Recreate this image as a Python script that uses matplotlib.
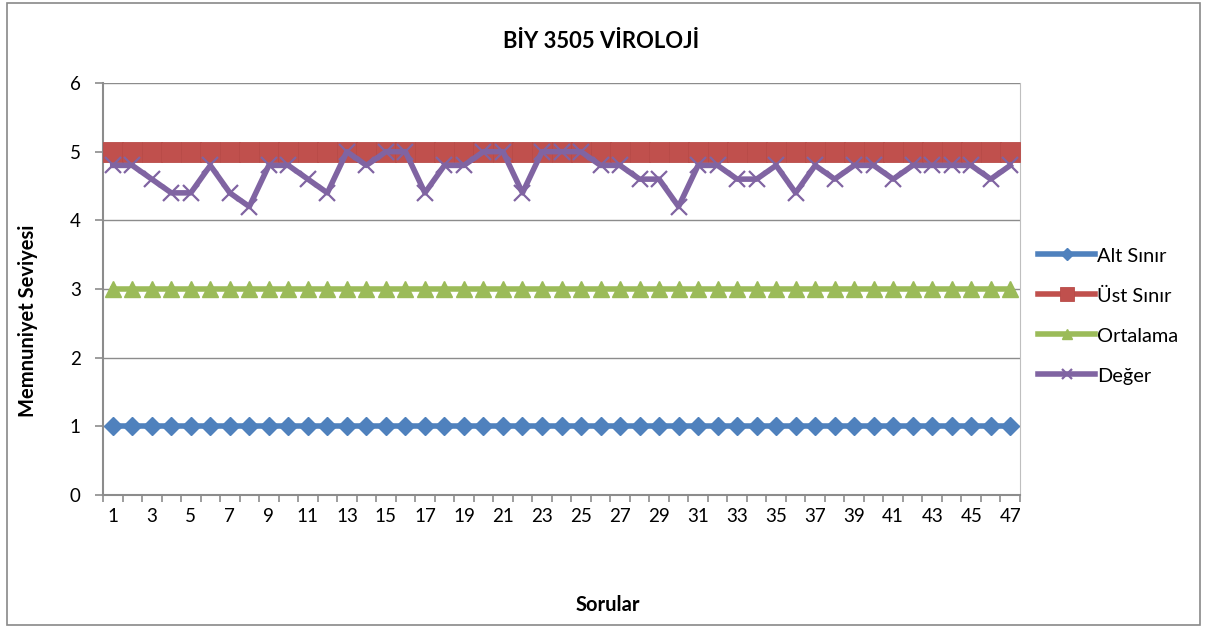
import numpy as np
import matplotlib
matplotlib.use("Agg")
import matplotlib.pyplot as plt
from matplotlib.patches import Rectangle

plt.rcParams['font.family'] = ['Lato', 'DejaVu Sans']

sorular = list(range(1, 48))
alt_sinir = [1] * 47
ust_sinir = [5] * 47
ortalama = [3] * 47
deger = [4.8, 4.8, 4.6, 4.4, 4.4, 4.8, 4.4, 4.2, 4.8, 4.8,
         4.6, 4.4, 5.0, 4.8, 5.0, 5.0, 4.4, 4.8, 4.8, 5.0,
         5.0, 4.4, 5.0, 5.0, 5.0, 4.8, 4.8, 4.6, 4.6, 4.2,
         4.8, 4.8, 4.6, 4.6, 4.8, 4.4, 4.8, 4.6, 4.8, 4.8,
         4.6, 4.8, 4.8, 4.8, 4.8, 4.6, 4.8]

fig = plt.figure(figsize=(12.08, 6.28), dpi=100)
ax = fig.add_axes([103/1208, 1 - 495/628, (1020-103)/1208, (495-83)/628])

# outer chart border
fig.patches.append(Rectangle((7/1208, 3/628), 1193/1208, 622/628, transform=fig.transFigure,
                             fill=False, edgecolor='#898989', linewidth=1.2))

ax.plot(sorular, alt_sinir, color='#4F81BD', lw=4, marker='D', ms=9.5,
        mec='#4F81BD', label='Alt Sınır', zorder=3)
ax.plot(sorular, ust_sinir, color='#C0504D', lw=4, marker='s', ms=15,
        mec='#B84B48', mew=0.6, label='Üst Sınır', zorder=3)
ax.plot(sorular, ortalama, color='#9BBB59', lw=4, marker='^', ms=11,
        mec='#9BBB59', label='Ortalama', zorder=3)
ax.plot(sorular, deger, color='#8064A2', lw=4, marker='x', ms=12, mew=1.6,
        mec='#8064A2', label='Değer', zorder=4)

ax.set_xlim(0.5, 47.5)
ax.set_ylim(0, 6)
ax.set_yticks(range(0, 7))
ax.yaxis.grid(True, color='#8c8c8c', lw=1)
ax.set_axisbelow(True)

ax.set_xticks(np.arange(0.5, 48, 1))
ax.set_xticklabels([])
ax.set_xticks(sorular[::2], [str(s) for s in sorular[::2]], minor=True)
ax.tick_params(axis='x', which='minor', length=0, labelsize=13.5, pad=9)
ax.tick_params(axis='x', which='major', length=5, color='#8c8c8c', width=1.2)
ax.tick_params(axis='y', length=6, color='#8c8c8c', width=1.2, labelsize=13.5, pad=10)

for s in ['left', 'bottom']:
    ax.spines[s].set_color('#8c8c8c')
    ax.spines[s].set_linewidth(1.5)
ax.spines['top'].set_visible(False)
ax.spines['right'].set_color('#bfbfbf')

fig.text(601/1208, 1 - 42/628, 'BİY 3505 VİROLOJİ', ha='center', va='center',
         fontsize=15.8, fontweight='bold')
fig.text(608/1208, 1 - 605/628, 'Sorular', ha='center', va='center',
         fontsize=14.5, fontweight='bold')
fig.text(28/1208, 1 - 321/628, 'Memnuniyet Seviyesi', ha='center', va='center',
         rotation=90, fontsize=14.5, fontweight='bold')

fig.legend(*ax.get_legend_handles_labels(), loc='center left',
           bbox_to_anchor=(1038/1208, 1 - 315.5/628), frameon=False,
           borderpad=0, borderaxespad=0,
           fontsize=14.4, handlelength=2.85, labelspacing=1.05, handletextpad=0.1,
           handleheight=1.0, markerscale=0.65)

fig.savefig('out.png', dpi=100)
